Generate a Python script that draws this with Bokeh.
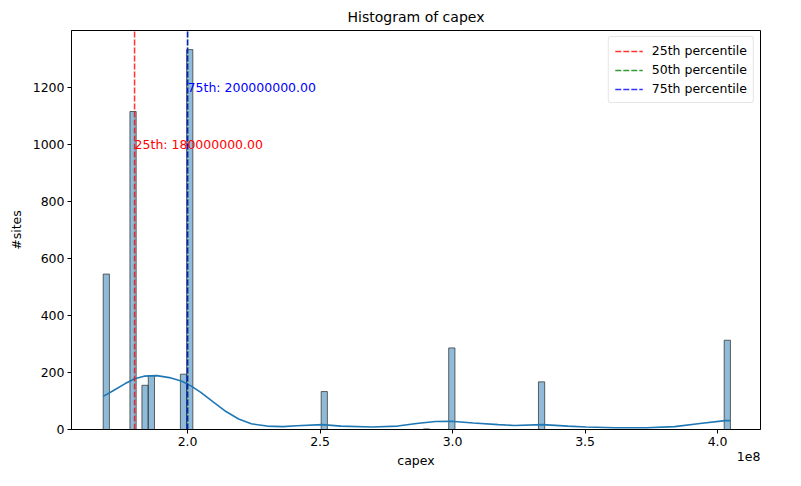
from bokeh.plotting import figure
from bokeh.models import (Range1d, FixedTicker, CustomJSTickFormatter,
                          Legend, LinearAxis)
from bokeh.embed import file_html
from bokeh.resources import INLINE

# ---------------- data ----------------
SCALE = 1e8
bin_left = [1.6816, 1.7825, 1.8278, 1.8517, 1.9729, 1.9964, 2.5041, 2.8900,
            2.9854, 3.3241, 4.0250]
bin_width = 0.0235
counts = [545, 1115, 155, 189, 194, 1332, 133, 2, 286, 167, 313]

kde_x = [1.6816, 1.7173, 1.7647, 1.8004, 1.8360, 1.8838, 1.9312, 1.9786,
         2.0143, 2.0499, 2.0977, 2.1451, 2.1925, 2.2403, 2.2995, 2.3590,
         2.4125, 2.5077, 2.5790, 2.6977, 2.7929, 2.8642, 2.9355, 2.9947,
         3.0781, 3.1729, 3.2324, 3.3394, 3.4346, 3.5045, 3.6128, 3.7316,
         3.8381, 3.9337, 4.0285, 4.0485]
kde_y = [116, 135, 161, 178, 187, 189, 182, 169, 152, 130, 96, 63, 37, 20,
         12, 10, 13, 17, 12, 9, 12, 21, 28, 29, 23, 17, 14, 17, 12, 9, 6, 6,
         10, 21, 31, 31]

pct_names = ["25th percentile", "50th percentile", "75th percentile"]
pct_values = [180000000.0, 200000000.0, 200000000.0]
pct_colors = ["red", "green", "blue"]

note_labels = ["25th", "75th"]
note_values = [180000000.0, 200000000.0]
note_y = [1000, 1200]
note_colors = ["red", "blue"]

x_ticks = [2.0, 2.5, 3.0, 3.5, 4.0]
y_ticks = [0, 200, 400, 600, 800, 1000, 1200]
x_limits = (1.562, 4.162)
y_limits = (0, 1399)
offset_text = "1e8"

FONT = "DejaVu Sans"

# ---------------- figure ----------------
p = figure(width=785, height=470, output_backend="svg", toolbar_location=None,
           x_range=Range1d(x_limits[0] * SCALE, x_limits[1] * SCALE),
           y_range=Range1d(*y_limits),
           title="Histogram of capex",
           min_border_left=71, min_border_right=25, min_border_top=30,
           min_border_bottom=40)

p.title.align = "center"
p.title.text_font = FONT
p.title.text_font_size = "14px"
p.title.text_font_style = "normal"
p.title.text_color = "#000000"
p.title.standoff = 12

p.grid.visible = False
p.outline_line_color = "#000000"
p.outline_line_width = 1
p.background_fill_color = "white"
p.border_fill_color = "white"

for ax in (p.xaxis[0], p.yaxis[0]):
    ax.axis_line_color = "#000000"
    ax.major_tick_line_color = "#000000"
    ax.major_tick_out = 4
    ax.major_tick_in = 0
    ax.minor_tick_line_color = None
    ax.major_label_text_font = FONT
    ax.major_label_text_font_size = "12.5px"
    ax.major_label_text_color = "#000000"
    ax.axis_label_text_font = FONT
    ax.axis_label_text_font_size = "12.5px"
    ax.axis_label_text_font_style = "normal"
    ax.axis_label_text_color = "#000000"
    ax.major_label_standoff = 3

p.xaxis.axis_label = "capex"
p.yaxis.axis_label = "#sites"
p.xaxis.axis_label_standoff = 4
p.yaxis.axis_label_standoff = 6
p.xaxis.ticker = FixedTicker(ticks=[t * SCALE for t in x_ticks])
p.xaxis.formatter = CustomJSTickFormatter(code="return (tick/1e8).toFixed(1);")
p.yaxis.ticker = FixedTicker(ticks=y_ticks)

# second (tick-less) bottom axis carrying the "1e8" offset text at the right
# end; the label is centred on its anchor, so trailing no-break spaces of the
# same width push the visible text to end at the frame's right edge
off_axis = LinearAxis(ticker=FixedTicker(ticks=[]),
                      axis_label=offset_text + "\u00a0" * 6,
                      axis_line_color=None, major_tick_line_color=None,
                      minor_tick_line_color=None, major_label_text_alpha=0,
                      axis_label_standoff=-22,
                      axis_label_text_font=FONT,
                      axis_label_text_font_size="12.5px",
                      axis_label_text_font_style="normal",
                      axis_label_text_color="#000000")
try:
    off_axis.axis_label_align = "right"
except Exception:
    off_axis.axis_label_align = "end"
p.add_layout(off_axis, "below")

# histogram bars
lefts = [b * SCALE for b in bin_left]
rights = [(b + bin_width) * SCALE for b in bin_left]
p.quad(left=lefts, right=rights, bottom=0, top=counts,
       fill_color="#1f77b4", fill_alpha=0.5,
       line_color="#333333", line_alpha=0.75, line_width=1)

# kde
p.line([x * SCALE for x in kde_x], kde_y, line_color="#1f77b4", line_width=1.6)

# percentile lines
items = []
for name, val, col in zip(pct_names, pct_values, pct_colors):
    r = p.ray(x=[val], y=[0], length=0, angle=90, angle_units="deg",
              line_color=col, line_width=1.5, line_dash="6 2", line_alpha=0.8)
    items.append((name, [r]))

# percentile notes
for lab, val, yy, col in zip(note_labels, note_values, note_y, note_colors):
    p.text(x=[val], y=[yy], text=[f"{lab}: {val:.2f}"], text_color=col,
           text_font_size="12.5px", text_baseline="alphabetic",
           text_align="left", text_font={"value": FONT})

legend = Legend(items=items, location="top_right")
legend.label_text_font = FONT
legend.label_text_font_size = "12.5px"
legend.label_text_color = "#000000"
legend.glyph_width = 28
legend.glyph_height = 14
legend.label_height = 14
legend.label_standoff = 9
legend.spacing = 4
legend.padding = 6
legend.margin = 6
legend.border_line_color = "#cccccc"
legend.border_line_width = 1
legend.background_fill_alpha = 0.85
legend.border_radius = 3
p.add_layout(legend)

open("out.html", "w").write(file_html(p, INLINE))
